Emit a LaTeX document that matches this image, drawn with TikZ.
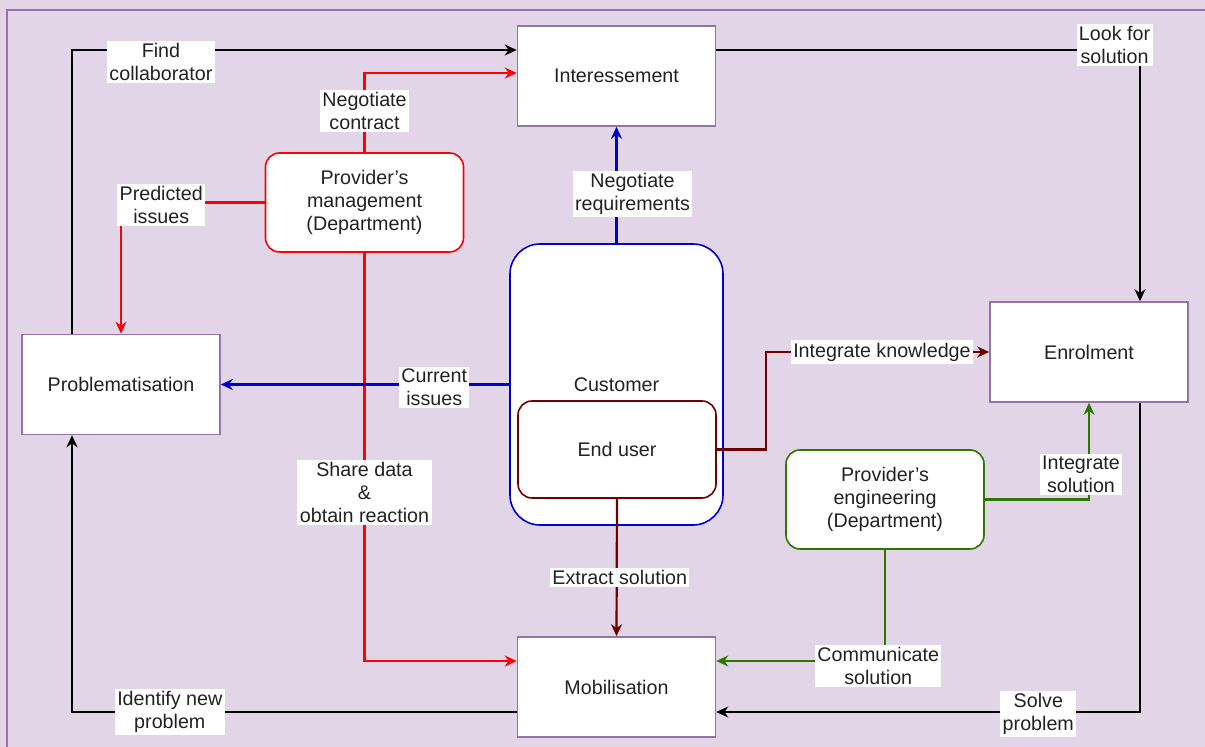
\documentclass[tikz,border=0pt]{standalone}
\usepackage{fontspec}
\setmainfont{Liberation Sans}
\usepackage{tikz}
\usetikzlibrary{arrows.meta}

\definecolor{bgpurple}{HTML}{E1D5E7}
\definecolor{boxpurple}{HTML}{9673A6}
\definecolor{mgmtred}{HTML}{FF0000}
\definecolor{custblue}{HTML}{0000CC}
\definecolor{userred}{HTML}{6F0000}
\definecolor{enggreen}{HTML}{2D7600}
\definecolor{textgray}{HTML}{222222}

\begin{document}
\begin{tikzpicture}[x=0.5pt,y=-0.5pt,
  font=\fontsize{9.85}{11.5}\selectfont,
  box/.style={draw=boxpurple,fill=white,line width=0.8pt,minimum width=99pt,minimum height=50pt,align=center,text=textgray},
  dept/.style={draw,fill=white,line width=0.8pt,rounded corners=7pt,minimum width=99pt,minimum height=49.5pt,align=center,text=textgray},
  flow/.style={-{Stealth[length=6pt,width=5.5pt]},line width=1.1pt},
  lbl/.style={fill=white,inner sep=1.2pt,align=center,text=textgray}]

  \useasboundingbox (0,0) rectangle (1205,747);
  \fill[bgpurple] (0,0) rectangle (1205,747);
  \draw[boxpurple,line width=1pt] (7,747) -- (7,10) -- (1205,10);

  % actors
  \node[box] (inter) at (616.5,76) {Interessement};
  \node[box] (prob) at (121,384.5) {Problematisation};
  \node[box] (enrol) at (1089,352) {Enrolment};
  \node[box] (mobil) at (616.5,687) {Mobilisation};
  \node[dept,draw=mgmtred] (mgmt) at (364.5,202.5) {Provider's\\management\\(Department)};
  \node[dept,draw=custblue,rounded corners=15pt,minimum width=106.5pt,minimum height=140.5pt] (cust) at (616.5,384.5) {Customer};
  \node[dept,draw=userred,minimum height=48.5pt] (user) at (617,449.5) {End user};
  \node[dept,draw=enggreen] (eng) at (885,499.5) {Provider's\\engineering\\(Department)};

  % black loop
  \draw[flow] ([xshift=-24.5pt]prob.north) |- node[lbl,pos=0.6,yshift=-6pt] {Find\\collaborator} ([yshift=13pt]inter.west);
  \draw[flow] ([yshift=13pt]inter.east) -| node[lbl,pos=0.47,yshift=2.5pt] {Look for\\solution} ([xshift=25.5pt]enrol.north);
  \draw[flow] ([xshift=25.5pt]enrol.south) |- node[lbl,pos=0.62,yshift=-1.2pt] {Solve\\problem} ([yshift=-12.5pt]mobil.east);
  \draw[flow] ([yshift=-12.5pt]mobil.west) -| node[lbl,pos=0.39] {Identify new\\problem} ([xshift=-24.5pt]prob.south);

  % management
  \draw[flow,mgmtred] (mgmt.north) |- node[lbl,pos=0.26] {Negotiate\\contract} ([yshift=1.5pt]inter.west);
  \draw[flow,mgmtred] (mgmt.west) -| node[lbl,pos=0.36,yshift=-1.2pt] {Predicted\\issues} (prob.north);
  \draw[flow,mgmtred] (mgmt.south) |- node[lbl,pos=0.29,yshift=-1.5pt] {Share data\\\&\\obtain reaction} ([yshift=13pt]mobil.west);

  % customer
  \draw[flow,custblue] (cust.north) -- node[lbl,pos=0.42,xshift=8pt] {Negotiate\\requirements} (inter.south);
  \draw[flow,custblue] (cust.west) -- node[lbl,pos=0.26,yshift=-1.5pt] {Current\\issues} (prob.east);

  % end user
  \draw[flow,userred] (user.east) -- ++(49,0) |- node[lbl,pos=0.76] {Integrate knowledge} (enrol.west);
  \draw[flow,userred] (user.south) -- node[lbl,pos=0.575,xshift=1.5pt] {Extract solution} (mobil.north);

  % engineering
  \draw[flow,enggreen] (eng.east) -| node[lbl,pos=0.63,xshift=-4pt] {Integrate\\solution} (enrol.south);
  \draw[flow,enggreen] (eng.south) |- node[lbl,pos=0.52,yshift=-2.5pt] {Communicate\\solution} ([yshift=13pt]mobil.east);
\end{tikzpicture}
\end{document}
